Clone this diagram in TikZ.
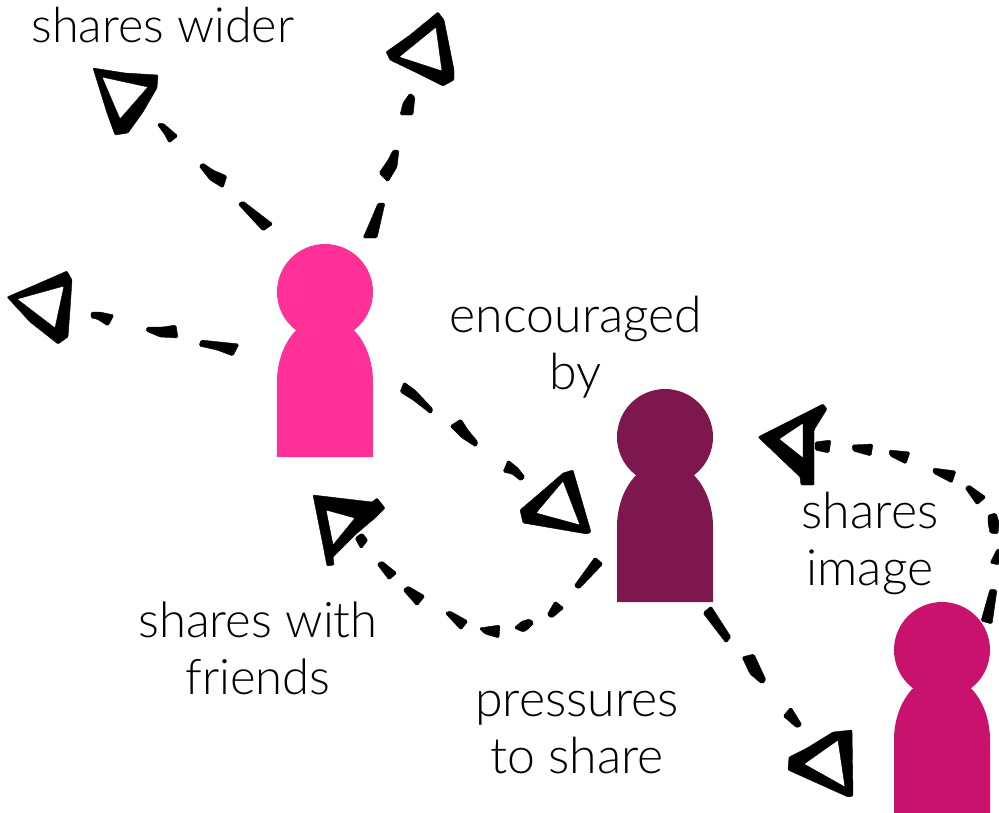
\documentclass[tikz,border=0pt]{standalone}
\usepackage{fontspec}
\setmainfont{Lato Light}
\definecolor{pinkp}{HTML}{FF3097}
\definecolor{maroonp}{HTML}{7D174D}
\definecolor{magentap}{HTML}{C9116E}
\tikzset{
  labeltext/.style={align=center,inner sep=0pt,font=\fontsize{50}{57}\selectfont,text=black},
  ink/.style={fill=black,draw=black,line width=0.4pt,line join=round,rounded corners=1.5pt},
  inkhead/.style={fill=black,even odd rule,draw=black,line width=0.4pt,line join=round,rounded corners=1pt},
}
\newcommand{\person}[4]{%
  \fill[#4] (#2-48,#3+90) arc[x radius=48,y radius=65,start angle=180,end angle=360] -- (#2+48,#3+165) -- (#2-48,#3+165) -- cycle;
  \node[circle,fill=#4,minimum size=96pt,inner sep=0pt,outer sep=0pt] (#1) at (#2,#3) {};
}
\begin{document}
\begin{tikzpicture}[x=1pt,y=-1pt]
\useasboundingbox (0,0) rectangle (999,812);
\begin{scope}
\clip (0,0) rectangle (999,812);
\person{pinkperson}{325}{292}{pinkp}
\person{maroonperson}{665}{437}{maroonp}
\person{magentaperson}{942}{650}{magentap}

% top-left arrow
\path[inkhead] (93,68) -- (125,73) -- (158,75) -- (157,88) -- (143,112) -- (128,133) -- (115,135) -- (107,113) -- cycle (102,77) -- (148,87) -- (120,119) -- cycle;
\path[ink] (157,124) -- (163,123) -- (178,136) -- (169,143) -- (165,135) -- cycle;
\path[ink] (199,166) -- (203,163) -- (213,170) -- (227,176) -- (223,188) -- (210,180) -- cycle;
\path[ink] (238,204) -- (243,201) -- (273,224) -- (263,231) -- (250,217) -- cycle;
% top arrow
\path[inkhead] (438,12) -- (444,20) -- (454,70) -- (454,80) -- (443,86) -- (415,72) -- (390,60) -- (386,52) -- (410,35) -- cycle (436,27) -- (442,71) -- (399,57) -- cycle;
\path[ink] (410,93) -- (415,97) -- (413,115) -- (400,115) -- (403,103) -- cycle;
\path[ink] (393,150) -- (399,150) -- (397,167) -- (388,182) -- (379,173) -- (388,160) -- cycle;
\path[ink] (378,203) -- (385,203) -- (377,238) -- (363,238) -- (370,222) -- cycle;
% left arrow
\path[inkhead] (67,271) -- (72,280) -- (70,310) -- (68,337) -- (58,344) -- (30,322) -- (7,297) -- (35,285) -- cycle (64,286) -- (55,328) -- (17,299) -- cycle;
\path[ink] (91,312) -- (100,312) -- (114,315) -- (108,326) -- (97,319) -- (91,318) -- cycle;
\path[ink] (147,327) -- (163,327) -- (176,325) -- (178,338) -- (160,337) -- (146,331) -- cycle;
\path[ink] (201,340) -- (220,342) -- (239,344) -- (233,356) -- (217,350) -- (199,346) -- cycle;
% arrow to maroon
\path[inkhead] (573,470) -- (591,532) -- (587,534) -- (523,523) -- (520,510) -- (540,493) -- (563,473) -- cycle (563,481) -- (580,525) -- (536,513) -- cycle;
\path[ink] (400,392) -- (404,382) -- (415,390) -- (433,409) -- (431,414) -- (413,400) -- cycle;
\path[ink] (450,426) -- (461,419) -- (468,430) -- (478,442) -- (476,447) -- (462,438) -- cycle;
\path[ink] (503,472) -- (508,460) -- (518,468) -- (525,477) -- (521,481) -- (512,474) -- cycle;
% shares with friends arrow
\path[inkhead] (313,495) -- (372,502) -- (377,498) -- (385,508) -- (375,518) -- (355,535) -- (333,557) -- (334,565) -- (327,566) -- (322,540) -- cycle (326,510) -- (355,518) -- (333,545) -- cycle;
\path[ink] (362,533) -- (368,540) -- (361,549) -- (355,538) -- cycle;
\path[ink] (377,564) -- (382,561) -- (397,573) -- (389,580) -- cycle;
\path[ink] (403,590) -- (408,586) -- (425,596) -- (417,606) -- cycle;
\path[ink] (445,613) -- (450,611) -- (468,621) -- (461,630) -- cycle;
\path[ink] (479,628) -- (500,625) -- (499,638) -- (485,634) -- cycle;
\path[ink] (514,628) -- (522,621) -- (530,619) -- (534,623) -- (527,630) -- (523,632) -- cycle;
\path[ink] (555,601) -- (564,608) -- (552,618) -- (547,615) -- cycle;
\path[ink] (595,557) -- (603,564) -- (579,589) -- (574,586) -- cycle;
% shares image arrow
\path[inkhead] (823,404) -- (827,409) -- (814,430) -- (814,485) -- (801,485) -- (800,477) -- (758,437) -- cycle (803,423) -- (803,458) -- (779,439) -- cycle;
\path[ink] (815,442) -- (831,440) -- (829,453) -- (815,450) -- cycle;
\path[ink] (852,445) -- (873,444) -- (871,456) -- (853,451) -- cycle;
\path[ink] (889,450) -- (910,452) -- (906,464) -- (890,456) -- cycle;
\path[ink] (933,468) -- (956,471) -- (952,483) -- (933,473) -- cycle;
\path[ink] (965,488) -- (969,485) -- (986,497) -- (977,505) -- cycle;
\path[ink] (988,515) -- (996,513) -- (999,522) -- (998,534) -- (990,533) -- (988,523) -- cycle;
\path[ink] (997,549) -- (999,549) -- (999,565) -- (990,563) -- cycle;
\path[ink] (990,589) -- (997,590) -- (992,624) -- (981,621) -- cycle;
% pressures arrow
\path[ink] (703,613) -- (711,606) -- (731,637) -- (726,643) -- cycle;
\path[ink] (742,657) -- (754,654) -- (766,680) -- (762,684) -- (750,674) -- cycle;
\path[ink] (783,716) -- (791,707) -- (802,725) -- (797,728) -- cycle;
\path[inkhead] (852,730) -- (853,796) -- (848,797) -- (788,770) -- (789,757) -- (807,748) -- (833,732) -- cycle (838,740) -- (845,787) -- (804,764) -- cycle;
\end{scope}

\node[labeltext,font=\fontsize{48.5}{57}\selectfont] (lblwider) at (163,25) {shares wider};
\node[labeltext] (lblencouraged) at (576,347) {encouraged\\by};
\node[labeltext] (lblimage) at (870,543) {shares\\image};
\node[labeltext,font=\fontsize{49}{57}\selectfont] (lblfriends) at (258,648) {shares with\\friends};
\node[labeltext] (lblpressures) at (577,733) {pressures\\to share};
\end{tikzpicture}
\end{document}
